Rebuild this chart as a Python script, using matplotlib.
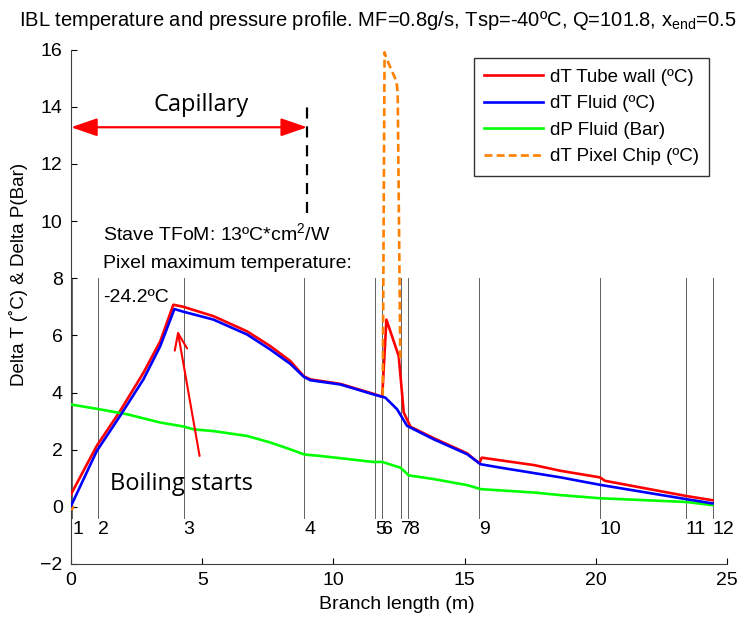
import matplotlib
matplotlib.use("Agg")
import matplotlib.pyplot as plt

plt.rcParams['font.family'] = ['Liberation Sans', 'DejaVu Sans']
plt.rcParams['mathtext.fontset'] = 'custom'
plt.rcParams['mathtext.rm'] = 'Liberation Sans'
plt.rcParams['mathtext.it'] = 'Liberation Sans'

# ---- data ----
wall_x = [0, 0.98, 1.87, 2.76, 3.4, 3.9, 4.27, 5.43, 6.71, 7.6, 8.36, 8.87, 9.12, 10.27,
          11.54, 11.86, 12.02, 12.49, 12.68, 12.94, 13.83, 15.1, 15.56, 15.65, 17.65,
          18.66, 20.16, 20.35, 23.44, 24.45]
wall_y = [0.44, 2.13, 3.35, 4.69, 5.79, 7.07, 7.0, 6.67, 6.14, 5.62, 5.1, 4.57, 4.46, 4.3,
          3.95, 3.85, 6.55, 5.27, 3.3, 2.8, 2.4, 1.87, 1.52, 1.72, 1.46,
          1.26, 1.03, 0.91, 0.38, 0.23]

fluid_x = [0, 0.98, 1.87, 2.76, 3.4, 3.94, 4.27, 5.43, 6.71, 7.6, 8.36, 8.87, 9.12, 10.27,
           11.54, 11.98, 12.43, 12.81, 13.07, 13.83, 15.1, 15.61, 16.37, 17.65, 18.66,
           20.16, 23.44, 24.45]
fluid_y = [0.03, 1.95, 3.18, 4.46, 5.62, 6.92, 6.83, 6.55, 6.03, 5.5, 5.0, 4.55, 4.43, 4.28,
           3.93, 3.82, 3.41, 2.83, 2.71, 2.36, 1.84, 1.49, 1.37, 1.18, 1.03,
           0.77, 0.27, 0.12]

dp_x = [0, 0.98, 2.13, 3.4, 4.29, 4.67, 5.43, 6.71, 7.6, 8.36, 8.87, 9.0, 9.5, 11.53,
        11.86, 12.56, 12.87, 13.83, 15.1, 15.61, 17.65, 18.66, 20.16, 23.44, 24.45]
dp_y = [3.58, 3.43, 3.24, 2.95, 2.81, 2.71, 2.65, 2.48, 2.25, 2.01, 1.84, 1.82, 1.78, 1.57,
        1.57, 1.37, 1.1, 0.97, 0.76, 0.62, 0.5, 0.41, 0.3, 0.17, 0.06]

chip_x = [0, None, 11.88, 11.95, 12.0, 12.2, 12.4, 12.45, 12.55]
chip_y = [0, None, 3.9, 15.9, 15.75, 15.3, 14.9, 14.5, 5.2]

section_x = [0.05, 1.02, 4.29, 8.89, 11.59, 11.86, 12.58, 12.85, 15.56, 20.15, 23.42, 24.45]
section_labels = ['1', '2', '3', '4', '5', '6', '7', '8', '9', '10', '11', '12']

capillary_end = 9.0
xticks = [0, 5, 10, 15, 20, 25]
yticks = [-2, 0, 2, 4, 6, 8, 10, 12, 14, 16]

# ---- figure ----
fig = plt.figure(figsize=(7.51, 6.19), dpi=100)
ax = fig.add_axes([71/751, 1-564/619, (727-71)/751, (564-49.5)/619])

for sx, lab in zip(section_x, section_labels):
    ax.plot([sx, sx], [-0.4, 8.0], color='#606060', lw=0.7, zorder=1)
    ax.text(sx, -0.8, lab, ha='left', va='center', fontsize=14, zorder=5)

ax.plot(wall_x, wall_y, color='#ff0000', lw=1.9, label='dT Tube wall (ºC)', zorder=3)
ax.plot(fluid_x, fluid_y, color='#0000ff', lw=1.9, label='dT Fluid (ºC)', zorder=4)
ax.plot(dp_x, dp_y, color='#00ff00', lw=1.9, label='dP Fluid (Bar)', zorder=3)
cx = [v if v is not None else float('nan') for v in chip_x]
cy = [v if v is not None else float('nan') for v in chip_y]
ax.plot(cx, cy, color='#ff8000', lw=1.9, ls=(0, (3, 1.6)), label='dT Pixel Chip (ºC)', zorder=3)
ax.plot([0], [0], 'o', color='#ff8000', ms=3, zorder=3)

# capillary annotation
ax.annotate('', xy=(0, 13.28), xytext=(capillary_end, 13.28),
            arrowprops=dict(arrowstyle='<|-|>,head_length=1.6,head_width=0.55',
                            color='#ff0000', lw=1.6, shrinkA=0, shrinkB=0))
ax.plot([capillary_end, capillary_end], [10.28, 14.17], color='black', lw=1.6,
        ls=(0, (5, 3.5)), zorder=3)
ax.text(4.95, 14.05, 'Capillary', ha='center', va='center', fontsize=17,
        family=['Open Sans', 'DejaVu Sans'])

ax.text(1.23, 9.58, 'Stave TFoM: 13ºC*cm$^{2}$/W', ha='left', va='center', fontsize=14)
ax.text(1.23, 8.53, 'Pixel maximum temperature:', ha='left', va='center', fontsize=14)
ax.text(1.23, 7.31, '-24.2ºC', ha='left', va='center', fontsize=14)

ax.text(1.49, 0.79, 'Boiling starts', ha='left', va='center', fontsize=17,
        family=['Open Sans', 'DejaVu Sans'])
ax.annotate('', xy=(4.06, 6.18), xytext=(4.9, 1.78),
            arrowprops=dict(arrowstyle='->,head_length=1.2,head_width=0.45',
                            color='#ff0000', lw=1.5, shrinkA=0, shrinkB=0))

ax.set_xlim(0, 25)
ax.set_ylim(-2, 16)
ax.set_xticks(xticks)
ax.set_yticks(yticks)
ax.tick_params(direction='in', length=4, labelsize=14, width=0.8, pad=6)
ax.spines['top'].set_visible(False)
ax.spines['right'].set_visible(False)
for s in ('left', 'bottom'):
    ax.spines[s].set_color('#404040')

ax.set_xlabel('Branch length (m)', fontsize=14)
ax.xaxis.set_label_coords(0.497, -0.062)
ax.set_ylabel('Delta T (˚C) & Delta P(Bar)', fontsize=13.5)
ax.yaxis.set_label_coords(-0.066, 0.562)

leg = ax.legend(loc='upper left', bbox_to_anchor=((474-71)/656, 1-(58.3-49.5)/514.5),
                fontsize=13.5, frameon=True, fancybox=False, edgecolor='black',
                handlelength=3.15, handletextpad=0.36, borderpad=0.55, labelspacing=0.5,
                borderaxespad=0)
leg.get_frame().set_linewidth(1.0)

fig.text(0.503, 0.967, 'IBL temperature and pressure profile. MF=0.8g/s, Tsp=-40ºC, Q=101.8, x$_{\\mathrm{end}}$=0.5',
         ha='center', va='center', fontsize=14.5)

fig.savefig('out.png', dpi=100)
